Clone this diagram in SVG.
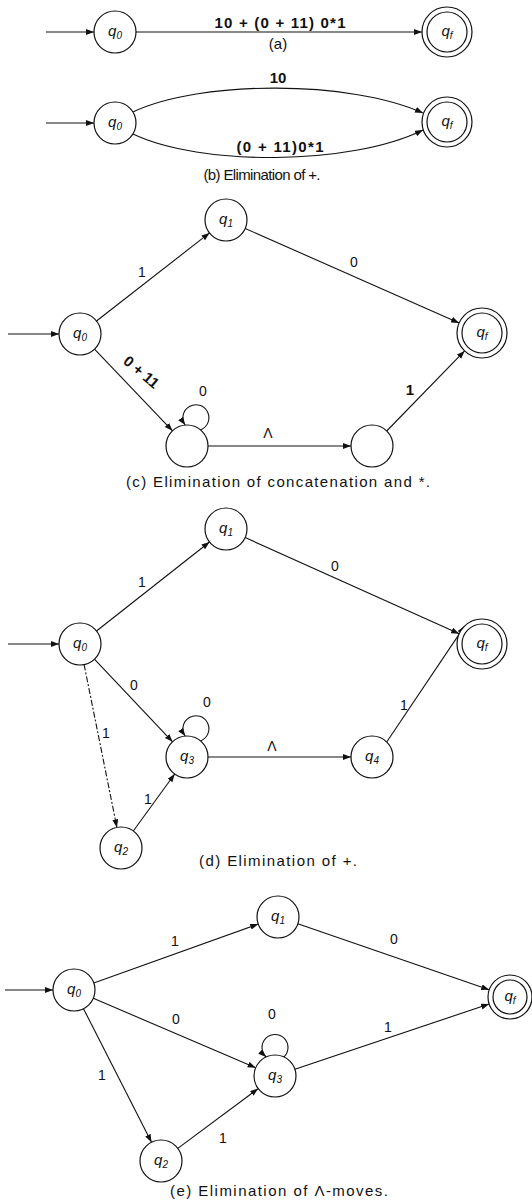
<svg xmlns="http://www.w3.org/2000/svg" width="532" height="1200" viewBox="0 0 532 1200">
<style>
.n{fill:#fff;stroke:#111;stroke-width:1.2}
.e{fill:none;stroke:#111;stroke-width:1.1}
.ea{fill:none;stroke:#111;stroke-width:1.1;marker-end:url(#ah)}
.nl{font-family:"Liberation Sans",Arial,sans-serif;font-style:italic;font-size:15px;fill:#111}
.sub{font-size:10px}
.lb{font-family:"Liberation Sans",Arial,sans-serif;font-size:14px;fill:#111;text-anchor:middle}
.bd{font-family:"Liberation Sans",Arial,sans-serif;font-size:15px;font-weight:bold;fill:#111;text-anchor:middle}
.cap{font-family:"Liberation Sans",Arial,sans-serif;font-size:15px;fill:#111;text-anchor:middle}
</style>
<defs>
<marker id="ah" markerUnits="userSpaceOnUse" markerWidth="9" markerHeight="7" refX="8" refY="3" orient="auto">
<path d="M0,0 L8,3 L0,6 z" fill="#111"/>
</marker>
</defs>
<rect width="532" height="1200" fill="#fff"/>

<g id="connectors">
<!-- (a) -->
<line class="ea" x1="46" y1="32" x2="94" y2="32" stroke-width="1.6"/>
<line class="ea" x1="136" y1="32" x2="422" y2="32"/>
<!-- (b) -->
<line class="ea" x1="46" y1="123" x2="94" y2="123" stroke-width="1.6"/>
<path class="ea" d="M133,112 C200,80 350,80 423,113"/>
<path class="ea" d="M133,134 C200,166 350,166 423,130"/>
<!-- (c) -->
<line class="ea" x1="8" y1="334" x2="59" y2="334"/>
<line class="ea" x1="96.5" y1="321" x2="209.5" y2="232.9"/>
<line class="ea" x1="245.2" y1="228.5" x2="459.1" y2="322.9"/>
<line class="ea" x1="94.5" y1="349.2" x2="172.5" y2="430.8"/>
<line class="ea" x1="208" y1="446" x2="351" y2="446" stroke-width="1.5"/>
<line class="ea" x1="386.7" y1="431" x2="464.6" y2="350.9"/>
<path class="ea" d="M200.5,429.9 A13 13 0 1 0 185.2,425.1"/>
<!-- (d) -->
<line class="ea" x1="8" y1="644" x2="59" y2="644" stroke-width="1.6"/>
<line class="ea" x1="96.5" y1="631" x2="209.5" y2="542"/>
<line class="ea" x1="245.2" y1="537.6" x2="459.2" y2="633.8"/>
<line class="ea" x1="94.4" y1="659.2" x2="172.6" y2="741.8" stroke-width="1.4"/>
<line class="ea" x1="84.1" y1="664.6" x2="116.9" y2="827.4" stroke-dasharray="6 2 2 2"/>
<line class="ea" x1="133.3" y1="831" x2="174.7" y2="774"/>
<line class="ea" x1="208" y1="757" x2="351" y2="757" stroke-width="1.8"/>
<line class="ea" x1="386.7" y1="742" x2="464.6" y2="626.1"/>
<path class="ea" d="M200.5,740.9 A13 13 0 1 0 185.2,736.1"/>
<!-- (e) -->
<line class="ea" x1="5" y1="990" x2="53" y2="990" stroke-width="1.4"/>
<line class="ea" x1="93.8" y1="982.9" x2="258.2" y2="924.1" stroke-width="1.3"/>
<line class="ea" x1="297.8" y1="923.8" x2="489.2" y2="989.8" stroke-width="1.3"/>
<line class="ea" x1="93.3" y1="998.3" x2="255.7" y2="1067.7" stroke-width="1.3"/>
<line class="ea" x1="83.5" y1="1008.7" x2="151.5" y2="1142.3"/>
<line class="ea" x1="177.8" y1="1148.4" x2="258.2" y2="1088.6"/>
<line class="ea" x1="294.9" y1="1069.3" x2="489.1" y2="1004" stroke-width="1.3"/>
<path class="ea" d="M283.9,1057 A13 13 0 1 0 266.1,1057"/>

<!-- edge labels -->
<text class="bd" x="280" y="28" textLength="131" lengthAdjust="spacing">10 + (0 + 11) 0*1</text>
<text class="bd" x="278" y="83">10</text>
<text class="bd" x="280" y="152" textLength="87" lengthAdjust="spacing">(0 + 11)0*1</text>

<text class="lb" x="142" y="277">1</text>
<text class="lb" x="354" y="267">0</text>
<text class="bd" x="0" y="0" transform="translate(138,376) rotate(40)">0 + 11</text>
<text class="lb" x="203" y="396">0</text>
<text class="lb" x="268" y="438">Λ</text>
<text class="bd" x="410" y="395">1</text>

<text class="lb" x="142" y="587">1</text>
<text class="lb" x="335" y="571">0</text>
<text class="lb" x="134" y="690">0</text>
<text class="lb" x="106" y="738">1</text>
<text class="lb" x="148" y="804">1</text>
<text class="lb" x="207" y="707">0</text>
<text class="lb" x="272" y="751">Λ</text>
<text class="lb" x="404" y="710">1</text>

<text class="lb" x="175" y="946">1</text>
<text class="lb" x="394" y="944">0</text>
<text class="lb" x="176" y="1024">0</text>
<text class="lb" x="272" y="1019">0</text>
<text class="lb" x="388" y="1032">1</text>
<text class="lb" x="102" y="1080">1</text>
<text class="lb" x="223" y="1143">1</text>
</g>

<!-- (a) nodes -->
<g id="a_q0"><circle class="n" cx="115" cy="32" r="21"/><text class="nl" x="115" y="36" text-anchor="middle">q<tspan class="sub" dy="3">0</tspan></text></g>
<g id="a_qf"><circle class="n" cx="447" cy="32" r="25"/><circle class="n" cx="447" cy="32" r="20"/><text class="nl" x="447" y="36" text-anchor="middle">q<tspan class="sub" dy="3">f</tspan></text></g>
<text class="cap" x="278" y="49" font-size="14">(a)</text>

<!-- (b) nodes -->
<g id="b_q0"><circle class="n" cx="115" cy="123" r="21"/><text class="nl" x="115" y="127" text-anchor="middle">q<tspan class="sub" dy="3">0</tspan></text></g>
<g id="b_qf"><circle class="n" cx="447" cy="122" r="25"/><circle class="n" cx="447" cy="122" r="20"/><text class="nl" x="447" y="126" text-anchor="middle">q<tspan class="sub" dy="3">f</tspan></text></g>
<text class="cap" x="262" y="180" font-size="13" textLength="117" lengthAdjust="spacing">(b) Elimination of +.</text>

<!-- (c) nodes -->
<g id="c_q0"><circle class="n" cx="80" cy="334" r="21"/><text class="nl" x="80" y="338" text-anchor="middle">q<tspan class="sub" dy="3">0</tspan></text></g>
<g id="c_q1"><circle class="n" cx="226" cy="220" r="21"/><text class="nl" x="226" y="224" text-anchor="middle">q<tspan class="sub" dy="3">1</tspan></text></g>
<g id="c_qf"><circle class="n" cx="482" cy="333" r="25"/><circle class="n" cx="482" cy="333" r="20"/><text class="nl" x="482" y="337" text-anchor="middle">q<tspan class="sub" dy="3">f</tspan></text></g>
<g id="c_s1"><circle class="n" cx="187" cy="446" r="21"/></g>
<g id="c_s2"><circle class="n" cx="372" cy="446" r="21"/></g>
<text class="cap" x="278" y="487" font-size="16" textLength="304" lengthAdjust="spacing">(c) Elimination of concatenation and *.</text>

<!-- (d) nodes -->
<g id="d_q0"><circle class="n" cx="80" cy="644" r="21"/><text class="nl" x="80" y="648" text-anchor="middle">q<tspan class="sub" dy="3">0</tspan></text></g>
<g id="d_q1"><circle class="n" cx="226" cy="529" r="21"/><text class="nl" x="226" y="533" text-anchor="middle">q<tspan class="sub" dy="3">1</tspan></text></g>
<g id="d_qf"><circle class="n" cx="482" cy="644" r="25"/><circle class="n" cx="482" cy="644" r="20"/><text class="nl" x="482" y="648" text-anchor="middle">q<tspan class="sub" dy="3">f</tspan></text></g>
<g id="d_q3"><circle class="n" cx="187" cy="757" r="21"/><text class="nl" x="187" y="761" text-anchor="middle">q<tspan class="sub" dy="3">3</tspan></text></g>
<g id="d_q4"><circle class="n" cx="372" cy="757" r="21"/><text class="nl" x="372" y="761" text-anchor="middle">q<tspan class="sub" dy="3">4</tspan></text></g>
<g id="d_q2"><circle class="n" cx="121" cy="848" r="21"/><text class="nl" x="121" y="852" text-anchor="middle">q<tspan class="sub" dy="3">2</tspan></text></g>
<text class="cap" x="278" y="866" font-size="16" textLength="158" lengthAdjust="spacing">(d) Elimination of +.</text>

<!-- (e) nodes -->
<g id="e_q0"><circle class="n" cx="74" cy="990" r="21"/><text class="nl" x="74" y="994" text-anchor="middle">q<tspan class="sub" dy="3">0</tspan></text></g>
<g id="e_q1"><circle class="n" cx="278" cy="917" r="21"/><text class="nl" x="278" y="921" text-anchor="middle">q<tspan class="sub" dy="3">1</tspan></text></g>
<g id="e_qf"><circle class="n" cx="510" cy="997" r="22"/><circle class="n" cx="510" cy="997" r="17"/><text class="nl" x="510" y="1001" text-anchor="middle">q<tspan class="sub" dy="3">f</tspan></text></g>
<g id="e_q3"><circle class="n" cx="275" cy="1076" r="21"/><text class="nl" x="275" y="1080" text-anchor="middle">q<tspan class="sub" dy="3">3</tspan></text></g>
<g id="e_q2"><circle class="n" cx="161" cy="1161" r="21"/><text class="nl" x="161" y="1165" text-anchor="middle">q<tspan class="sub" dy="3">2</tspan></text></g>
<text class="cap" x="279" y="1196" font-size="16" textLength="218" lengthAdjust="spacing">(e) Elimination of Λ-moves.</text>
</svg>
